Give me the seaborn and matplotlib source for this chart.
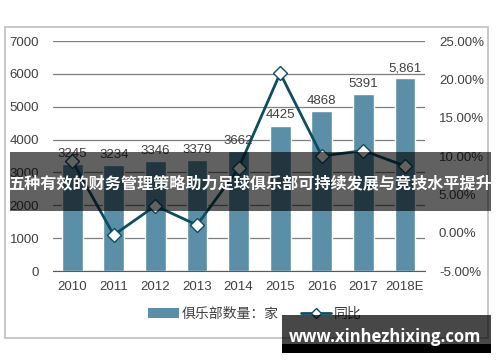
import matplotlib
matplotlib.use('Agg')
import matplotlib.pyplot as plt
import numpy as np
import pandas as pd
import seaborn as sns
from matplotlib.lines import Line2D
from matplotlib.patches import Patch, Rectangle
from matplotlib.ticker import FuncFormatter

years = ['2010', '2011', '2012', '2013', '2014', '2015', '2016', '2017', '2018E']
clubs = [3245, 3234, 3346, 3379, 3662, 4425, 4868, 5391, 5861]
club_labels = ['3245', '3234', '3346', '3379', '3662', '4425', '4868', '5391', '5,861']
yoy = [9.4, -0.3, 3.5, 1.0, 8.4, 20.8, 10.0, 10.7, 8.7]

title = '五种有效的财务管理策略助力足球俱乐部可持续发展与竞技水平提升'
watermark = 'www.xinhezhixing.com'

bar_color = '#5b8fa8'
line_color = '#0e4d61'
text_color = '#404040'

sns.set_style('white')
plt.rcParams['font.family'] = ['Liberation Sans', 'Noto Sans CJK SC', 'DejaVu Sans']

df = pd.DataFrame({'year': years, 'clubs': clubs, 'yoy': yoy, 'pos': np.arange(len(years))})

fig = plt.figure(figsize=(5, 3.62), dpi=100)
ax = fig.add_axes([53 / 500, 1 - 271 / 362, 372 / 500, 230 / 362])

sns.barplot(data=df, x='year', y='clubs', color=bar_color, width=0.5, saturation=1, ax=ax)
ax.bar_label(ax.containers[0], labels=club_labels, padding=3, fontsize=9.5, color=text_color)
ax.set_ylim(0, 7000)
ax.set_yticks(range(0, 7001, 1000))
ax.set_xlim(-0.46, 8.48)
ax.set_xlabel('')
ax.set_ylabel('')
ax.yaxis.grid(True, color='#7f7f7f', linewidth=0.9)
ax.set_axisbelow(True)
for s in ['top', 'right', 'left']:
    ax.spines[s].set_visible(False)
ax.spines['bottom'].set_color('#595959')
ax.tick_params(axis='both', length=0, labelsize=9.5, colors=text_color)
ax.tick_params(axis='y', pad=10)
ax.tick_params(axis='x', pad=7)

ax2 = ax.twinx()
sns.lineplot(data=df, x='pos', y='yoy', ax=ax2, color=line_color, linewidth=2.0,
             marker='D', markersize=7, markerfacecolor='white', markeredgecolor=line_color,
             markeredgewidth=1.0)
ax2.set_ylim(-5, 25)
ax2.set_yticks(range(-5, 26, 5))
ax2.yaxis.set_major_formatter(FuncFormatter(lambda v, p: f'{v:.2f}%'))
ax2.set_xlim(-0.46, 8.48)
ax2.set_ylabel('')
ax2.set_xlabel('')
for s in ax2.spines.values():
    s.set_visible(False)
ax2.tick_params(axis='y', length=0, labelsize=9.5, colors=text_color, pad=10)

handles = [Patch(facecolor=bar_color, edgecolor='none'),
           Line2D([], [], color=line_color, linewidth=2.0, marker='D', markersize=5,
                  markerfacecolor='white', markeredgecolor=line_color)]
fig.legend(handles, ['俱乐部数量：家', '同比'], loc='center', bbox_to_anchor=(0.51, 1 - 314 / 362),
           ncol=2, frameon=False, fontsize=10, handlelength=2.2, columnspacing=1.6,
           handletextpad=0.2, labelcolor=text_color)

# outer frame
fig.patches.append(Rectangle((5 / 500, 1 - 338 / 362), 483 / 500, 311 / 362, transform=fig.transFigure,
                             fill=False, edgecolor='#bfbfbf', linewidth=1.2))

# title banner
fig.patches.append(Rectangle((10 / 500, 1 - 211 / 362), 481 / 500, 59 / 362, transform=fig.transFigure,
                             facecolor='black', alpha=0.62, edgecolor='none', zorder=10))
fig.text(250 / 500, 1 - 183 / 362, title, ha='center', va='center', color='white', fontsize=11.6,
         fontweight='bold', family=['Noto Sans CJK SC', 'DejaVu Sans'], zorder=11)

# watermark
fig.patches.append(Rectangle((282 / 500, 1 - 344 / 362), 209 / 500, 29 / 362, transform=fig.transFigure,
                             facecolor='black', alpha=0.72, edgecolor='none', zorder=10))
fig.patches.append(Rectangle((282 / 500, 1 - 353 / 362), 209 / 500, 9 / 362, transform=fig.transFigure,
                             facecolor='black', edgecolor='none', zorder=10))
fig.text(385 / 500, 1 - 337 / 362, watermark, ha='center', va='center', color='white', fontsize=12,
         fontweight='bold', family=['Open Sans', 'DejaVu Sans'], zorder=11)

plt.savefig('out.png', dpi=100)
